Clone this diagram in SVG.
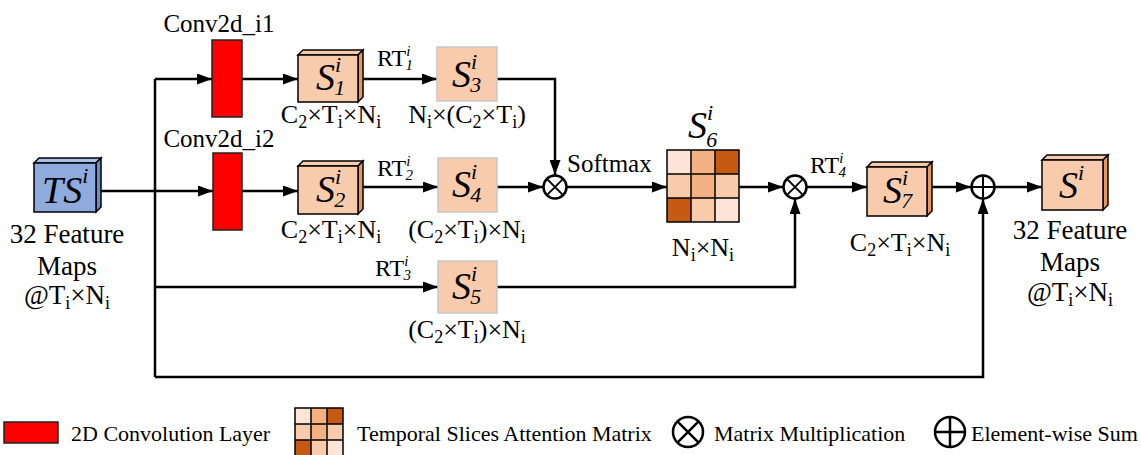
<svg xmlns="http://www.w3.org/2000/svg" width="1141" height="455" viewBox="0 0 1141 455">
<style>
text{font-family:'Liberation Serif','DejaVu Serif',serif}
.t{font-size:25px;fill:#000}
.d{font-size:26px;fill:#000}
.f{font-size:27px;fill:#000}
.lg{font-size:22px;fill:#000}
.sub{font-size:18px}
.S{font-size:38px;font-style:italic;fill:#000}
.sup{font-size:22px;font-style:italic}
.rs{font-size:15px;font-style:italic}
.conn{fill:none;stroke:#000;stroke-width:2.5}
.front{fill:#F8CBAD;stroke:#000;stroke-width:1.5}
.top{fill:#F8CBAD;stroke:#000;stroke-width:1.5}
.side{fill:#E8955E;stroke:#000;stroke-width:1.5}
.flat{fill:#F8CBAD;stroke:#C8C8C8;stroke-width:1.5}
.conv{fill:#FF0000;stroke:#222;stroke-width:1.5}
.op{fill:#fff;stroke:#000;stroke-width:2.5}
.c1{fill:#FCE4D6}.c2{fill:#F4B183}.c3{fill:#C55A11}.c4{fill:#F8CBAD}
.grid{fill:none;stroke:#000;stroke-width:1.5}
</style>
<defs>
<marker id="arr" markerUnits="userSpaceOnUse" markerWidth="15" markerHeight="11" refX="15" refY="5.5" orient="auto">
<path d="M0,0 L15,5.5 L0,11 z" fill="#000"/>
</marker>
</defs>

<g id="connectors">
<path class="conn" d="M101,191 H155"/>
<path class="conn" d="M155,79 V377"/>
<path class="conn" d="M155,79 H212" marker-end="url(#arr)"/>
<path class="conn" d="M155,191 H213" marker-end="url(#arr)"/>
<path class="conn" d="M242,79 H298" marker-end="url(#arr)"/>
<path class="conn" d="M242,191 H298" marker-end="url(#arr)"/>
<path class="conn" d="M363,79 H437" marker-end="url(#arr)"/>
<path class="conn" d="M363,187 H438" marker-end="url(#arr)"/>
<path class="conn" d="M497,79 H555 V175" marker-end="url(#arr)"/>
<path class="conn" d="M497,187 H543" marker-end="url(#arr)"/>
<path class="conn" d="M567,187 H667" marker-end="url(#arr)"/>
<path class="conn" d="M739,187 H783" marker-end="url(#arr)"/>
<path class="conn" d="M155,287 H438" marker-end="url(#arr)"/>
<path class="conn" d="M497,287 H795 V199" marker-end="url(#arr)"/>
<path class="conn" d="M807,187 H867" marker-end="url(#arr)"/>
<path class="conn" d="M932,187 H971" marker-end="url(#arr)"/>
<path class="conn" d="M995,187 H1042" marker-end="url(#arr)"/>
<path class="conn" d="M155,377 H983 V199" marker-end="url(#arr)"/>
</g>

<g id="TS">
<polygon points="34,163 39,158 101,158 96,163" fill="#A9BEE8" stroke="#000" stroke-width="1.5"/>
<polygon points="96,163 101,158 101,207 96,212" fill="#6D8CCB" stroke="#000" stroke-width="1.5"/>
<rect x="34" y="163" width="62" height="49" fill="#8FAADC" stroke="#000" stroke-width="1.5"/>
<text class="S" x="42" y="203">TS<tspan class="sup" dy="-20">i</tspan></text>
<text class="f" x="67" y="243" text-anchor="middle">32 Feature</text>
<text class="f" x="67" y="275" text-anchor="middle">Maps</text>
<text class="f" x="67" y="304" text-anchor="middle">@T<tspan class="sub" dy="5">i</tspan><tspan dy="-5">×N</tspan><tspan class="sub" dy="5">i</tspan></text>
</g>

<g id="conv1">
<rect class="conv" x="212" y="40" width="30" height="77"/>
<text class="t" x="219" y="32" text-anchor="middle">Conv2d_i1</text>
</g>
<g id="conv2">
<rect class="conv" x="213" y="153" width="29" height="77"/>
<text class="t" x="219" y="147" text-anchor="middle">Conv2d_i2</text>
</g>

<g id="S1">
<polygon class="top" points="298,55 303,50 363,50 358,55"/>
<polygon class="side" points="358,55 363,50 363,97 358,102"/>
<rect class="front" x="298" y="55" width="60" height="47"/>
<text class="S" x="316" y="90">S<tspan class="sup" dy="-18">i</tspan><tspan class="sup" dx="-7" dy="23">1</tspan></text>
<text class="d" x="331" y="123" text-anchor="middle">C<tspan class="sub" dy="5">2</tspan><tspan dy="-5">×T</tspan><tspan class="sub" dy="5">i</tspan><tspan dy="-5">×N</tspan><tspan class="sub" dy="5">i</tspan></text>
</g>

<g id="S2">
<polygon class="top" points="298,166 303,161 363,161 358,166"/>
<polygon class="side" points="358,166 363,161 363,209 358,214"/>
<rect class="front" x="298" y="166" width="60" height="48"/>
<text class="S" x="316" y="202">S<tspan class="sup" dy="-18">i</tspan><tspan class="sup" dx="-7" dy="23">2</tspan></text>
<text class="d" x="331" y="238" text-anchor="middle">C<tspan class="sub" dy="5">2</tspan><tspan dy="-5">×T</tspan><tspan class="sub" dy="5">i</tspan><tspan dy="-5">×N</tspan><tspan class="sub" dy="5">i</tspan></text>
</g>

<g id="RT1"><text class="t" x="377" y="66" style="font-size:24px">RT<tspan class="rs" dy="-10">i</tspan><tspan class="rs" dx="-5" dy="14">1</tspan></text></g>
<g id="RT2"><text class="t" x="377" y="176" style="font-size:24px">RT<tspan class="rs" dy="-10">i</tspan><tspan class="rs" dx="-5" dy="14">2</tspan></text></g>
<g id="RT3"><text class="t" x="375" y="276" style="font-size:24px">RT<tspan class="rs" dy="-10">i</tspan><tspan class="rs" dx="-5" dy="14">3</tspan></text></g>
<g id="RT4"><text class="t" x="810" y="173" style="font-size:24px">RT<tspan class="rs" dy="-10">i</tspan><tspan class="rs" dx="-5" dy="14">4</tspan></text></g>

<g id="S3">
<rect class="flat" x="437" y="47" width="60" height="54"/>
<text class="S" x="452" y="87">S<tspan class="sup" dy="-18">i</tspan><tspan class="sup" dx="-7" dy="23">3</tspan></text>
<text class="d" x="467" y="123" text-anchor="middle">N<tspan class="sub" dy="5">i</tspan><tspan dy="-5">×(C</tspan><tspan class="sub" dy="5">2</tspan><tspan dy="-5">×T</tspan><tspan class="sub" dy="5">i</tspan><tspan dy="-5">)</tspan></text>
</g>

<g id="S4">
<rect class="flat" x="438" y="158" width="59" height="54"/>
<text class="S" x="452" y="197">S<tspan class="sup" dy="-18">i</tspan><tspan class="sup" dx="-7" dy="23">4</tspan></text>
<text class="d" x="467" y="238" text-anchor="middle">(C<tspan class="sub" dy="5">2</tspan><tspan dy="-5">×T</tspan><tspan class="sub" dy="5">i</tspan><tspan dy="-5">)×N</tspan><tspan class="sub" dy="5">i</tspan></text>
</g>

<g id="S5">
<rect class="flat" x="438" y="261" width="59" height="52"/>
<text class="S" x="452" y="299">S<tspan class="sup" dy="-18">i</tspan><tspan class="sup" dx="-7" dy="23">5</tspan></text>
<text class="d" x="467" y="338" text-anchor="middle">(C<tspan class="sub" dy="5">2</tspan><tspan dy="-5">×T</tspan><tspan class="sub" dy="5">i</tspan><tspan dy="-5">)×N</tspan><tspan class="sub" dy="5">i</tspan></text>
</g>

<g id="mul1">
<circle class="op" cx="555" cy="187" r="11.5"/>
<path d="M546.9,178.9 L563.1,195.1 M563.1,178.9 L546.9,195.1" stroke="#000" stroke-width="2"/>
<text class="t" x="567" y="172">Softmax</text>
</g>

<g id="S6">
<rect class="c1" x="667" y="150" width="24" height="24"/>
<rect class="c2" x="691" y="150" width="24" height="24"/>
<rect class="c3" x="715" y="150" width="24" height="24"/>
<rect class="c4" x="667" y="174" width="24" height="24"/>
<rect class="c2" x="691" y="174" width="24" height="24"/>
<rect class="c4" x="715" y="174" width="24" height="24"/>
<rect class="c3" x="667" y="198" width="24" height="24"/>
<rect class="c4" x="691" y="198" width="24" height="24"/>
<rect class="c1" x="715" y="198" width="24" height="24"/>
<path class="grid" d="M667,150 H739 V222 H667 Z M691,150 V222 M715,150 V222 M667,174 H739 M667,198 H739"/>
<text class="S" x="688" y="138">S<tspan class="sup" dy="-18">i</tspan><tspan class="sup" dx="-7" dy="27">6</tspan></text>
<text class="d" x="703" y="256" text-anchor="middle">N<tspan class="sub" dy="5">i</tspan><tspan dy="-5">×N</tspan><tspan class="sub" dy="5">i</tspan></text>
</g>

<g id="mul2">
<circle class="op" cx="795" cy="187" r="11.5"/>
<path d="M786.9,178.9 L803.1,195.1 M803.1,178.9 L786.9,195.1" stroke="#000" stroke-width="2"/>
</g>

<g id="S7">
<polygon class="top" points="867,167 872,162 932,162 927,167"/>
<polygon class="side" points="927,167 932,162 932,211 927,216"/>
<rect class="front" x="867" y="167" width="60" height="49"/>
<text class="S" x="883" y="203">S<tspan class="sup" dy="-18">i</tspan><tspan class="sup" dx="-7" dy="23">7</tspan></text>
<text class="d" x="900" y="251" text-anchor="middle">C<tspan class="sub" dy="5">2</tspan><tspan dy="-5">×T</tspan><tspan class="sub" dy="5">i</tspan><tspan dy="-5">×N</tspan><tspan class="sub" dy="5">i</tspan></text>
</g>

<g id="sum">
<circle class="op" cx="983" cy="187" r="11.5"/>
<path d="M971.5,187 H994.5 M983,175.5 V198.5" stroke="#000" stroke-width="2"/>
</g>

<g id="Sout">
<polygon class="top" points="1042,160 1047,155 1108,155 1103,160"/>
<polygon class="side" points="1103,160 1108,155 1108,205 1103,210"/>
<rect class="front" x="1042" y="160" width="61" height="50"/>
<text class="S" x="1059" y="198">S<tspan class="sup" dy="-18">i</tspan></text>
<text class="f" x="1070" y="239" text-anchor="middle">32 Feature</text>
<text class="f" x="1070" y="271" text-anchor="middle">Maps</text>
<text class="f" x="1070" y="301" text-anchor="middle">@T<tspan class="sub" dy="5">i</tspan><tspan dy="-5">×N</tspan><tspan class="sub" dy="5">i</tspan></text>
</g>

<g id="legend">
<rect class="conv" x="4" y="422" width="54" height="21"/>
<text class="lg" x="71" y="441">2D Convolution Layer</text>
<rect class="c1" x="295" y="408" width="16" height="16"/>
<rect class="c2" x="311" y="408" width="16" height="16"/>
<rect class="c3" x="327" y="408" width="16" height="16"/>
<rect class="c4" x="295" y="424" width="16" height="16"/>
<rect class="c2" x="311" y="424" width="16" height="16"/>
<rect class="c4" x="327" y="424" width="16" height="16"/>
<rect class="c3" x="295" y="440" width="16" height="16"/>
<rect class="c4" x="311" y="440" width="16" height="16"/>
<rect class="c1" x="327" y="440" width="16" height="16"/>
<path class="grid" d="M295,456 V408 H343 V456 M311,408 V456 M327,408 V456 M295,424 H343 M295,440 H343"/>
<text class="lg" x="357" y="441">Temporal Slices Attention Matrix</text>
<circle cx="688" cy="432" r="15" fill="none" stroke="#000" stroke-width="2.5"/>
<path d="M677.4,421.4 L698.6,442.6 M698.6,421.4 L677.4,442.6" stroke="#000" stroke-width="2.5"/>
<text class="lg" x="714" y="441">Matrix Multiplication</text>
<circle cx="950" cy="432" r="15" fill="none" stroke="#000" stroke-width="2.5"/>
<path d="M935,432 H965 M950,417 V447" stroke="#000" stroke-width="2.5"/>
<text class="lg" x="971" y="441">Element-wise Sum</text>
</g>
</svg>
